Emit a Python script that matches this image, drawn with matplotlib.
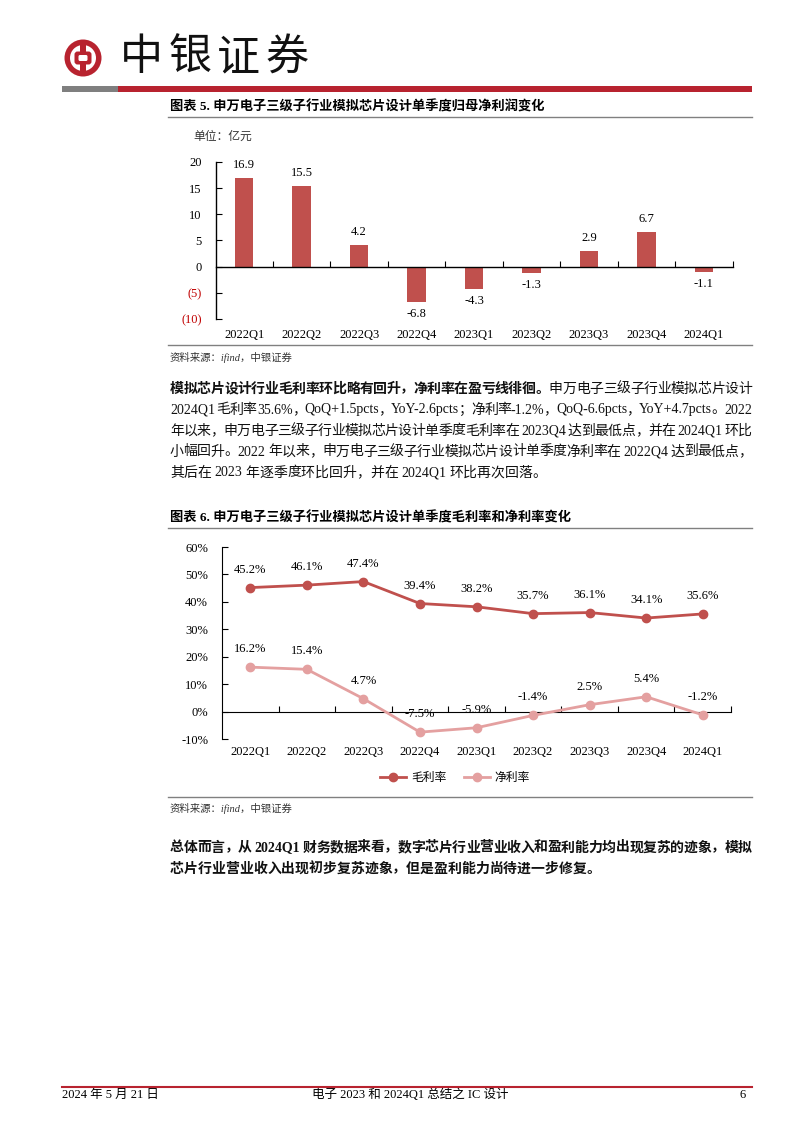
import re
import matplotlib
matplotlib.use('Agg')
import matplotlib.pyplot as plt
from matplotlib.patches import Circle, FancyBboxPatch, Rectangle
from matplotlib.lines import Line2D
import matplotlib.transforms as mtransforms

plt.rcParams['font.family'] = ['Liberation Serif', 'Noto Sans CJK SC', 'DejaVu Sans']
FAM = ['Liberation Serif', 'Noto Sans CJK SC', 'DejaVu Sans']
FAM_CJK = ['Noto Sans CJK SC', 'DejaVu Sans']

W, H = 802, 1133
RED = '#C0504D'
PINK = '#E4A0A0'
DARKRED = '#B8232F'

# data
quarters = ['2022Q1', '2022Q2', '2022Q3', '2022Q4', '2023Q1', '2023Q2', '2023Q3', '2023Q4', '2024Q1']
net_profit = [16.9, 15.5, 4.2, -6.8, -4.3, -1.3, 2.9, 6.7, -1.1]
gross_margin = [45.2, 46.1, 47.4, 39.4, 38.2, 35.7, 36.1, 34.1, 35.6]
net_margin = [16.2, 15.4, 4.7, -7.5, -5.9, -1.4, 2.5, 5.4, -1.2]
profit_ticks = [-10, -5, 0, 5, 10, 15, 20]
profit_ticklabels = ['(10)', '(5)', '0', '5', '10', '15', '20']
margin_ticks = [-10, 0, 10, 20, 30, 40, 50, 60]

fig = plt.figure(figsize=(W / 100, H / 100), dpi=100)


def fx(x):
    return x / W


def fy(y):
    return 1 - y / H


def hline(x0, x1, y, color, lw):
    fig.add_artist(Line2D([fx(x0), fx(x1)], [fy(y), fy(y)], color=color, lw=lw,
                          transform=fig.transFigure))


# ---------- header ----------
cx, cy = 83, 58
fig.add_artist(Circle((fx(cx), fy(cy)), 0.0, transform=fig.transFigure))
hdr = fig.add_axes([0, 0, 1, 1], zorder=-1)
hdr.set_xlim(0, W)
hdr.set_ylim(H, 0)
hdr.axis('off')
hdr.add_patch(Circle((cx, cy), 18.5, facecolor=DARKRED, edgecolor='none'))
hdr.add_patch(Circle((cx, cy), 13.0, facecolor='white', edgecolor='none'))
hdr.add_patch(Rectangle((cx - 2.6, cy - 18), 5.2, 36, facecolor=DARKRED, edgecolor='none'))
hdr.add_patch(FancyBboxPatch((cx - 8.5, cy - 6.5), 17, 13, boxstyle='round,pad=0,rounding_size=3',
                             facecolor=DARKRED, edgecolor='none'))
hdr.add_patch(FancyBboxPatch((cx - 4.5, cy - 3), 9, 6, boxstyle='round,pad=0,rounding_size=1.5',
                             facecolor='white', edgecolor='none'))
for ch, x in zip('中银证券', [141, 190, 238, 287]):
    hdr.text(x, 58, ch, fontsize=31, family=FAM_CJK, ha='center', va='center', color='#111111')
hdr.add_patch(Rectangle((62, 86), 56, 6, facecolor='#7F7F7F', edgecolor='none'))
hdr.add_patch(Rectangle((118, 86), 634, 6, facecolor=DARKRED, edgecolor='none'))

# ---------- chart titles / source lines ----------
hdr.text(170, 107, '图表 5. 申万电子三级子行业模拟芯片设计单季度归母净利润变化', fontsize=9.5,
         family=FAM, weight='bold', va='center')
hline(168, 752, 117, '#808080', 1.0)
hdr.text(193, 137, '单位：亿元', fontsize=8.5, family=FAM, va='center', color='#333333')
hline(168, 752, 345, '#808080', 1.0)
hdr.text(170, 357, '资料来源：ifind，中银证券', fontsize=7.5, family=FAM, style='italic',
         va='center', color='#333333')

hdr.text(170, 518, '图表 6. 申万电子三级子行业模拟芯片设计单季度毛利率和净利率变化', fontsize=9.5,
         family=FAM, weight='bold', va='center')
hline(168, 752, 528, '#808080', 1.0)
hline(168, 752, 797, '#808080', 1.0)
hdr.text(170, 808, '资料来源：ifind，中银证券', fontsize=7.5, family=FAM, style='italic',
         va='center', color='#333333')

# ---------- chart 1: bars ----------
L1, R1, T1, B1 = 215.5, 732.5, 162, 319
ax1 = fig.add_axes([fx(L1), fy(B1), (R1 - L1) / W, (B1 - T1) / H])
x = list(range(len(quarters)))
ax1.bar(x, net_profit, width=0.32, color=RED, zorder=2)
ax1.set_xlim(-0.5, len(quarters) - 0.5)
ax1.set_ylim(-10, 20)
for s in ['top', 'right']:
    ax1.spines[s].set_visible(False)
ax1.spines['bottom'].set_position(('data', 0))
ax1.spines['left'].set_linewidth(1.0)
ax1.spines['bottom'].set_linewidth(1.0)
ax1.set_yticks(profit_ticks)
ax1.set_yticklabels(profit_ticklabels, fontsize=9, family=FAM)
for lab, v in zip(ax1.get_yticklabels(), profit_ticks):
    lab.set_color('#C00000' if v < 0 else 'black')
ax1.tick_params(axis='y', direction='in', length=4, pad=10)
ax1.set_xticks([i + 0.5 for i in range(len(quarters))])
ax1.set_xticklabels([])
ax1.tick_params(axis='x', direction='in', length=4)
tr1 = mtransforms.blended_transform_factory(ax1.transData, fig.transFigure)
for i, (q, v) in enumerate(zip(quarters, net_profit)):
    ax1.text(i, fy(335), q, transform=tr1, ha='center', va='center', fontsize=9, family=FAM)
    if v >= 0:
        ax1.annotate(f'{v:.1f}', (i, v), xytext=(0, 13), textcoords='offset pixels',
                     ha='center', va='center', fontsize=9, family=FAM)
    else:
        ax1.annotate(f'{v:.1f}', (i, v), xytext=(0, -12), textcoords='offset pixels',
                     ha='center', va='center', fontsize=9, family=FAM)

# ---------- chart 2: lines ----------
L2, R2, T2, B2 = 222, 731, 547, 739
ax2 = fig.add_axes([fx(L2), fy(B2), (R2 - L2) / W, (B2 - T2) / H])
ax2.plot(x, gross_margin, color=RED, lw=2, marker='o', markersize=6, label='毛利率', zorder=3)
ax2.plot(x, net_margin, color=PINK, lw=2, marker='o', markersize=6, label='净利率', zorder=3)
ax2.set_xlim(-0.5, len(quarters) - 0.5)
ax2.set_ylim(-10, 60)
for s in ['top', 'right']:
    ax2.spines[s].set_visible(False)
ax2.spines['bottom'].set_position(('data', 0))
ax2.set_yticks(margin_ticks)
ax2.set_yticklabels([f'{t}%' for t in margin_ticks], fontsize=9, family=FAM)
ax2.tick_params(axis='y', direction='in', length=4, pad=10)
ax2.set_xticks([i + 0.5 for i in range(len(quarters))])
ax2.set_xticklabels([])
ax2.tick_params(axis='x', direction='in', length=4)
tr2 = mtransforms.blended_transform_factory(ax2.transData, fig.transFigure)
for i, q in enumerate(quarters):
    ax2.text(i, fy(752), q, transform=tr2, ha='center', va='center', fontsize=9, family=FAM)
    ax2.annotate(f'{gross_margin[i]:.1f}%', (i, gross_margin[i]), xytext=(0, 18),
                 textcoords='offset pixels', ha='center', va='center', fontsize=9, family=FAM)
    ax2.annotate(f'{net_margin[i]:.1f}%', (i, net_margin[i]), xytext=(0, 18),
                 textcoords='offset pixels', ha='center', va='center', fontsize=9, family=FAM)
ax2.legend(loc='center', bbox_to_anchor=(fx(455), fy(778)), bbox_transform=fig.transFigure,
           ncol=2, frameon=False, prop={'family': FAM, 'size': 8.5}, handlelength=2.2,
           columnspacing=1.5, handletextpad=0.4)

# ---------- body text ----------
renderer = fig.canvas.get_renderer()
TOK = re.compile(r'[A-Za-z0-9.%+\-]+| |.')


def draw_line(segments, y, x0=170, x1=752, justify=True, size=10):
    items = []
    for s, bold in segments:
        for tok in TOK.findall(s):
            if tok == ' ':
                items.append((None, 3.0))
                continue
            t = hdr.text(0, y, tok, fontsize=size, family=FAM, va='center',
                         weight='bold' if bold else 'normal', color='#111111')
            w = t.get_window_extent(renderer).width
            items.append((t, w))
    total = sum(w for _, w in items)
    gap = (x1 - x0 - total) / (len(items) - 1) if justify and len(items) > 1 else 0.0
    pos = x0
    for t, w in items:
        if t is not None:
            t.set_x(pos)
        pos += w + gap


para1 = [
    [('模拟芯片设计行业毛利率环比略有回升，净利率在盈亏线徘徊。', True), ('申万电子三级子行业模拟芯片设计', False)],
    [('2024Q1 毛利率 35.6%，QoQ+1.5pcts，YoY-2.6pcts；净利率-1.2%，QoQ-6.6pcts，YoY+4.7pcts。2022', False)],
    [('年以来，申万电子三级子行业模拟芯片设计单季度毛利率在 2023Q4 达到最低点，并在 2024Q1 环比', False)],
    [('小幅回升。2022 年以来，申万电子三级子行业模拟芯片设计单季度净利率在 2022Q4 达到最低点，', False)],
    [('其后在 2023 年逐季度环比回升，并在 2024Q1 环比再次回落。', False)],
]
for k, segs in enumerate(para1):
    draw_line(segs, 389 + 21 * k, justify=(k < len(para1) - 1))

para2 = [
    [('总体而言，从 2024Q1 财务数据来看，数字芯片行业营业收入和盈利能力均出现复苏的迹象，模拟', True)],
    [('芯片行业营业收入出现初步复苏迹象，但是盈利能力尚待进一步修复。', True)],
]
for k, segs in enumerate(para2):
    draw_line(segs, 848 + 21 * k, justify=(k < len(para2) - 1))

# ---------- footer ----------
hline(62, 752, 1087, DARKRED, 1.5)
hdr.text(62, 1095, '2024 年 5 月 21 日', fontsize=9, family=FAM, va='center')
hdr.text(410, 1095, '电子 2023 和 2024Q1 总结之 IC 设计', fontsize=9, family=FAM, va='center', ha='center')
hdr.text(746, 1095, '6', fontsize=9, family=FAM, va='center', ha='right')

fig.savefig('out.png', dpi=100)
